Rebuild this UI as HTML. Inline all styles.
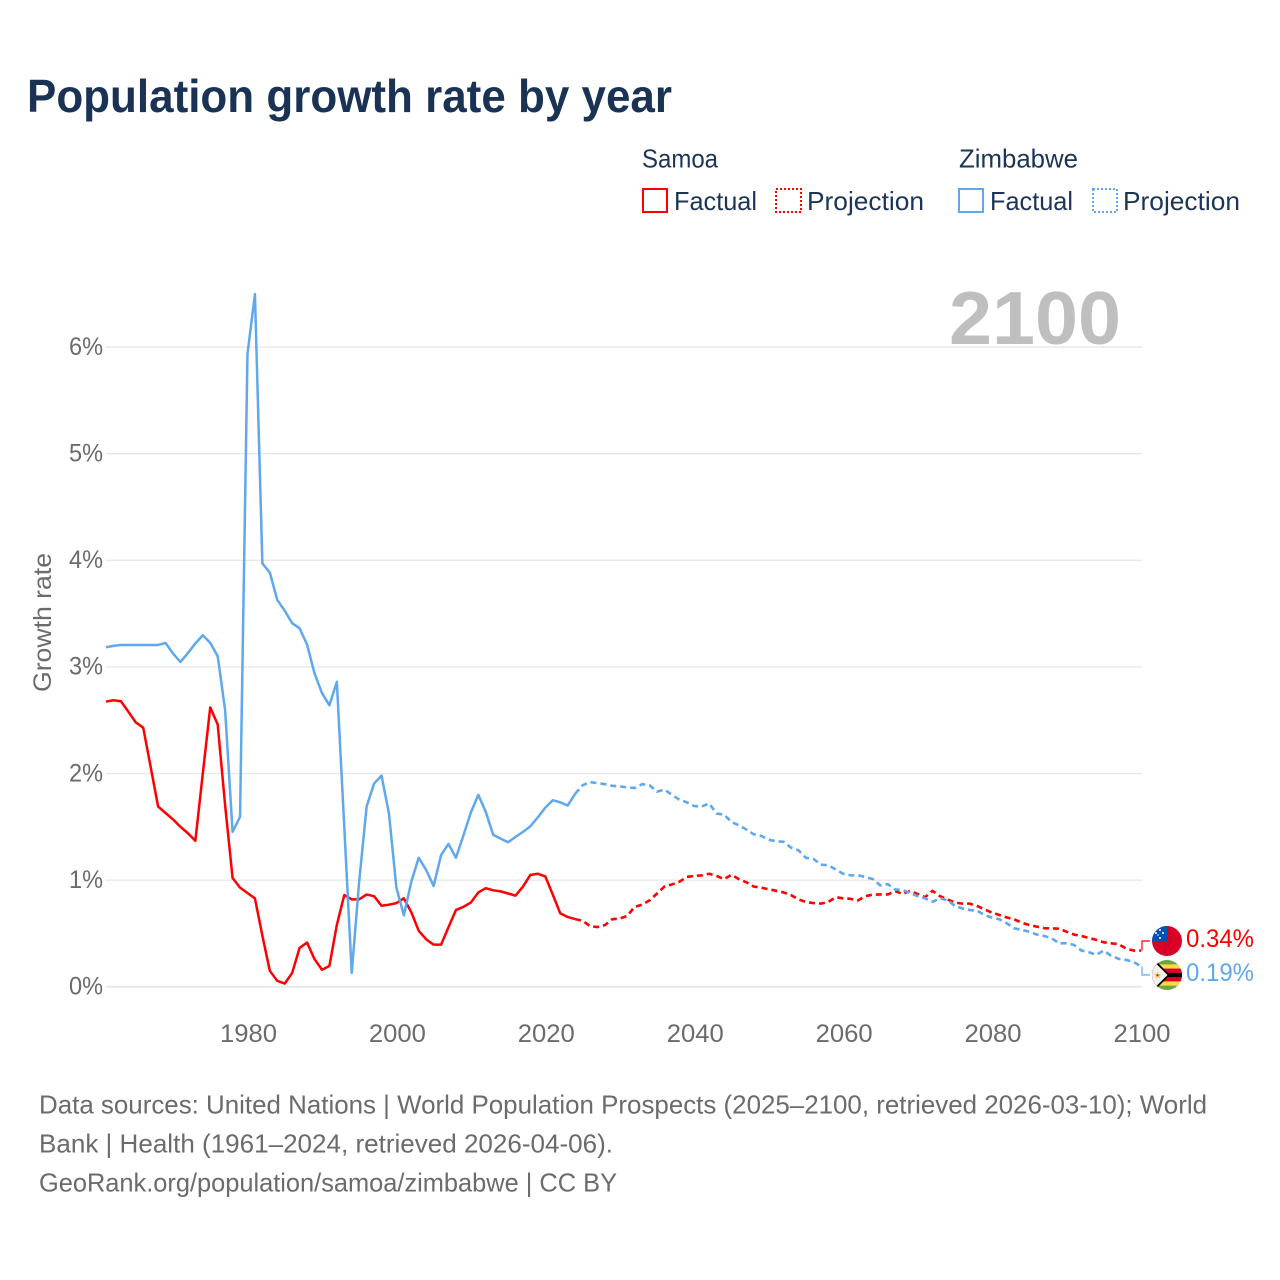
<!DOCTYPE html>
<html lang="en">
<head>
<meta charset="utf-8">
<title>Population growth rate by year</title>
<style>
html,body{margin:0;padding:0;background:#fff;}
svg{display:block;}
text{font-family:"Liberation Sans",sans-serif;}
</style>
</head>
<body>
<svg id="chart" xmlns="http://www.w3.org/2000/svg" width="1280" height="1280" viewBox="0 0 1280 1280">
  <defs>
    <clipPath id="flag-clip-samoa"><circle cx="1167" cy="941" r="15"/></clipPath>
    <clipPath id="flag-clip-zimbabwe"><circle cx="1167" cy="975" r="15"/></clipPath>
  </defs>
  <rect width="1280" height="1280" fill="#ffffff"/>
  <text x="27" y="112" font-size="46" font-weight="700" fill="#1a3355" textLength="645" lengthAdjust="spacingAndGlyphs">Population growth rate by year</text>

  <g font-size="26" fill="#1c3557">
    <text x="642" y="167.5" textLength="76" lengthAdjust="spacingAndGlyphs">Samoa</text>
    <text x="959" y="167.5" textLength="119" lengthAdjust="spacingAndGlyphs">Zimbabwe</text>
    <rect x="643" y="189" width="24" height="23" fill="none" stroke="#ff0000" stroke-width="2"/>
    <text x="674" y="210" textLength="83" lengthAdjust="spacingAndGlyphs">Factual</text>
    <rect x="776" y="189" width="25" height="23" fill="none" stroke="#ff0000" stroke-width="2" stroke-dasharray="2 2"/>
    <text x="807" y="210" textLength="117" lengthAdjust="spacingAndGlyphs">Projection</text>
    <rect x="959" y="189" width="24" height="23" fill="none" stroke="#5fa8ee" stroke-width="2"/>
    <text x="990" y="210" textLength="83" lengthAdjust="spacingAndGlyphs">Factual</text>
    <rect x="1093" y="189" width="24" height="23" fill="none" stroke="#5fa8ee" stroke-width="2" stroke-dasharray="2 2"/>
    <text x="1123" y="210" textLength="117" lengthAdjust="spacingAndGlyphs">Projection</text>
  </g>

  <g id="grid"></g>
  <text x="949" y="344" font-size="75" font-weight="700" fill="#bfbfbf" textLength="172" lengthAdjust="spacingAndGlyphs">2100</text>
  <g id="y-ticks" font-size="25" fill="#6b6b6b"></g>
  <g id="x-ticks" font-size="25" fill="#6b6b6b"></g>
  <text transform="translate(51 622.5) rotate(-90)" text-anchor="middle" font-size="25" fill="#6b6b6b" textLength="139" lengthAdjust="spacingAndGlyphs">Growth rate</text>

  <g id="series"></g>

  <g clip-path="url(#flag-clip-samoa)">
    <rect x="1152" y="926" width="30" height="30" fill="#d80027"/>
    <rect x="1152" y="926" width="15" height="15" fill="#0052b4"/>
    <circle cx="1160" cy="930" r="1" fill="#fff"/>
    <circle cx="1156" cy="933" r="1" fill="#fff"/>
    <circle cx="1163" cy="933" r="1" fill="#fff"/>
    <circle cx="1160" cy="938" r="1" fill="#fff"/>
    <circle cx="1158" cy="935" r="0.7" fill="#fff"/>
  </g>
  <g clip-path="url(#flag-clip-zimbabwe)">
    <rect x="1152" y="960" width="30" height="30" fill="#6da544"/>
    <rect x="1152" y="964.4" width="30" height="21.2" fill="#ffda44"/>
    <rect x="1152" y="968.6" width="30" height="12.8" fill="#d80027"/>
    <rect x="1152" y="973" width="30" height="4" fill="#000"/>
    <polygon points="1152,960 1155,960 1170,975 1155,990 1152,990" fill="#000"/>
    <polygon points="1152,960 1154,961.5 1167.5,975 1154,988.5 1152,990" fill="#f0f0f0"/>
    <polygon points="1157.5,971.5 1158.6,974 1161,974.2 1159.2,975.9 1159.9,978.5 1157.5,977.1 1155.2,978.5 1155.9,975.9 1154,974.2 1156.4,974" fill="#ffc14d"/>
    <circle cx="1157.5" cy="975.2" r="1" fill="#d80027"/>
  </g>
  <g id="end-labels" font-size="25"></g>

  <g font-size="26" fill="#6b6b6b">
    <text x="39" y="1113.5" textLength="1168" lengthAdjust="spacingAndGlyphs">Data sources: United Nations | World Population Prospects (2025–2100, retrieved 2026-03-10); World</text>
    <text x="39" y="1152.5" textLength="574" lengthAdjust="spacingAndGlyphs">Bank | Health (1961–2024, retrieved 2026-04-06).</text>
    <text x="39" y="1191.5" textLength="578" lengthAdjust="spacingAndGlyphs">GeoRank.org/population/samoa/zimbabwe | CC BY</text>
  </g>
</svg>
<script>
const years = [1961,1962,1963,1964,1965,1966,1967,1968,1969,1970,1971,1972,1973,1974,1975,1976,1977,1978,1979,1980,
1981,1982,1983,1984,1985,1986,1987,1988,1989,1990,1991,1992,1993,1994,1995,1996,1997,1998,1999,2000,
2001,2002,2003,2004,2005,2006,2007,2008,2009,2010,2011,2012,2013,2014,2015,2016,2017,2018,2019,2020,
2021,2022,2023,2024,2025,2026,2027,2028,2029,2030,2031,2032,2033,2034,2035,2036,2037,2038,2039,2040,
2041,2042,2043,2044,2045,2046,2047,2048,2049,2050,2051,2052,2053,2054,2055,2056,2057,2058,2059,2060,
2061,2062,2063,2064,2065,2066,2067,2068,2069,2070,2071,2072,2073,2074,2075,2076,2077,2078,2079,2080,
2081,2082,2083,2084,2085,2086,2087,2088,2089,2090,2091,2092,2093,2094,2095,2096,2097,2098,2099,2100];
const samoaValues = [2.675,2.687,2.678,2.58,2.48,2.43,2.06,1.69,1.63,1.57,1.5,1.44,1.37,2.0,2.62,2.46,1.7,1.02,0.93,0.88,
0.83,0.48,0.15,0.056,0.03,0.13,0.365,0.415,0.26,0.16,0.195,0.58,0.86,0.82,0.82,0.865,0.85,0.76,0.77,0.785,
0.83,0.7,0.525,0.445,0.395,0.395,0.56,0.72,0.75,0.79,0.885,0.925,0.905,0.895,0.875,0.855,0.94,1.05,1.06,1.035,
0.865,0.69,0.655,0.635,0.62,0.57,0.56,0.578,0.634,0.64,0.665,0.75,0.77,0.81,0.875,0.94,0.96,0.985,1.03,1.04,
1.045,1.06,1.04,1.01,1.05,1.01,0.98,0.94,0.93,0.915,0.9,0.885,0.86,0.82,0.795,0.785,0.78,0.795,0.84,0.83,
0.825,0.81,0.85,0.865,0.866,0.866,0.897,0.87,0.9,0.87,0.84,0.9,0.85,0.82,0.79,0.78,0.78,0.757,0.726,0.695,
0.673,0.65,0.632,0.6,0.58,0.564,0.55,0.548,0.545,0.517,0.49,0.477,0.458,0.44,0.417,0.408,0.4,0.358,0.34,0.34];
const zimbabweValues = [3.184,3.197,3.206,3.206,3.206,3.206,3.206,3.206,3.225,3.125,3.047,3.13,3.22,3.297,3.225,3.1,2.594,1.453,1.594,5.934,
6.497,3.97,3.885,3.628,3.528,3.41,3.362,3.21,2.94,2.756,2.64,2.86,1.5,0.13,0.985,1.69,1.906,1.98,1.625,0.93,
0.67,0.985,1.21,1.095,0.945,1.235,1.34,1.21,1.42,1.635,1.8,1.64,1.425,1.39,1.356,1.406,1.453,1.506,1.59,1.68,
1.75,1.73,1.7,1.81,1.89,1.92,1.91,1.9,1.885,1.88,1.87,1.865,1.9,1.89,1.83,1.85,1.8,1.755,1.73,1.695,
1.69,1.72,1.625,1.615,1.545,1.515,1.475,1.43,1.415,1.38,1.365,1.36,1.305,1.28,1.21,1.2,1.145,1.14,1.1,1.06,
1.045,1.045,1.03,1.01,0.95,0.963,0.913,0.907,0.88,0.85,0.83,0.797,0.83,0.813,0.76,0.735,0.72,0.713,0.673,0.648,
0.632,0.595,0.548,0.533,0.517,0.49,0.477,0.455,0.408,0.408,0.393,0.34,0.324,0.3,0.34,0.29,0.262,0.252,0.234,0.19];
const xTickValues = [1980,2000,2020,2040,2060,2080,2100];
const yTickValues = [0,1,2,3,4,5,6];
const lastFactualYear = 2024;

const SVG_NS = "http://www.w3.org/2000/svg";
const plotLeft = 106, plotRight = 1142;
function xScale(year){ return 106 + (year - 1961) * 7.446; }
function yScale(v){ return 986.8 - v * 106.63; }
function node(tag, parent){
  const el = document.createElementNS(SVG_NS, tag);
  parent.appendChild(el);
  return el;
}
function pathFor(values, keep){
  let d = "";
  years.forEach(function(yr, i){
    if(keep(yr)) d += (d ? "L" : "M") + xScale(yr).toFixed(2) + " " + yScale(values[i]).toFixed(2);
  });
  return d;
}

const gridG = document.getElementById("grid");
const yTicksG = document.getElementById("y-ticks");
const xTicksG = document.getElementById("x-ticks");
const seriesG = document.getElementById("series");
const labelsG = document.getElementById("end-labels");

yTickValues.forEach(function(v){
  const line = node("line", gridG);
  
  
  line.setAttribute("x1", plotLeft);
  line.setAttribute("x2", plotRight);
  line.setAttribute("y1", yScale(v));
  line.setAttribute("y2", yScale(v));
  line.setAttribute("stroke", "#e8e8e8");
  line.setAttribute("stroke-width", v === 0 ? 2 : 1.4);
  const t = node("text", yTicksG);
  
  
  t.setAttribute("x", 69);
  t.setAttribute("y", yScale(v) + 7.8);
  t.setAttribute("textLength", 34);
  t.setAttribute("lengthAdjust", "spacingAndGlyphs");
  t.textContent = v + "%";
});

xTickValues.forEach(function(yr){
  const t = node("text", xTicksG);
  
  
  t.setAttribute("x", xScale(yr) + 1 - 28.5);
  t.setAttribute("y", 1042);
  t.setAttribute("textLength", 57);
  t.setAttribute("lengthAdjust", "spacingAndGlyphs");
  t.textContent = yr;
});

function drawSeries(name, values, color, flagY, labelY){
  const factual = node("path", seriesG);
  
  
  factual.setAttribute("d", pathFor(values, function(y){ return y <= lastFactualYear; }));
  factual.setAttribute("fill", "none");
  factual.setAttribute("stroke", color);
  factual.setAttribute("stroke-width", 2.5);
  factual.setAttribute("stroke-linejoin", "round");

  const projection = node("path", seriesG);
  
  
  projection.setAttribute("d", pathFor(values, function(y){ return y >= lastFactualYear; }));
  projection.setAttribute("fill", "none");
  projection.setAttribute("stroke", color);
  projection.setAttribute("stroke-width", 2.6);
  projection.setAttribute("stroke-dasharray", "6 4");
  projection.setAttribute("stroke-linejoin", "round");

  const last = values[values.length - 1];
  const connector = node("path", seriesG);
  
  
  connector.setAttribute("d", "M1142 " + yScale(last).toFixed(1) + "V" + flagY + "H1150");
  connector.setAttribute("fill", "none");
  connector.setAttribute("stroke", color);
  connector.setAttribute("stroke-width", 1.2);

  const label = node("text", labelsG);
  
  
  label.setAttribute("x", 1186);
  label.setAttribute("y", labelY);
  label.setAttribute("fill", color);
  label.setAttribute("textLength", 68);
  label.setAttribute("lengthAdjust", "spacingAndGlyphs");
  label.textContent = last.toFixed(2) + "%";
}
drawSeries("samoa", samoaValues, "#ff0000", 941, 947);
drawSeries("zimbabwe", zimbabweValues, "#5fa8ee", 975, 981);
</script>
</body>
</html>
